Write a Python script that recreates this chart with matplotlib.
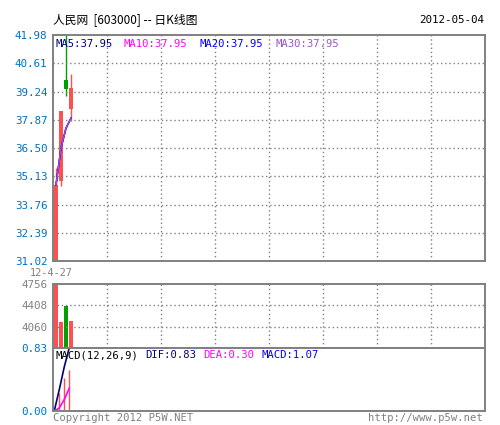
import numpy as np
import matplotlib
matplotlib.use("Agg")
import matplotlib.pyplot as plt

# daily candles 2012-04-27 .. 2012-05-04
opens = [31.02, 34.89, 39.78, 38.41]
highs = [35.52, 38.30, 41.98, 40.07]
lows = [31.02, 34.64, 39.04, 37.82]
closes = [34.70, 38.30, 39.38, 39.42]
volumes = [4756, 4128, 4390, 4160]
dif = [0.00, 0.28, 0.58, 0.834]
dea = [0.00, 0.04, 0.15, 0.30]

price_ticks = np.linspace(31.02, 41.98, 9)
vol_ticks = [4756, 4408, 4060]
vol_bottom = 3712
macd_ticks = [0.00, 0.83]
first_date = "12-4-27"
last_date = "2012-05-04"

RED = "#ff5050"
GREEN = "#00a000"
GRAY = "#808080"
BLUE = "#0070c0"
MONO = "DejaVu Sans Mono"
CJK = ["Noto Sans CJK SC", "DejaVu Sans"]

def ma(vals, n):
    out = []
    for i in range(len(vals)):
        s = vals[max(0, i - n + 1):i + 1]
        out.append(sum(s) / len(s))
    return np.array(out)

W, H = 500, 425
fig = plt.figure(figsize=(5, 4.25), dpi=100)

def box(x0, y0, x1, y1):
    return [x0 / W, 1 - y1 / H, (x1 - x0) / W, (y1 - y0) / H]

ax_k = fig.add_axes(box(53, 35, 485, 261))
ax_v = fig.add_axes(box(53, 284, 485, 348))
ax_m = fig.add_axes(box(53, 348, 485, 411))

n = len(closes)
x = np.arange(n)
xl, xr = -0.6, -0.6 + 432 / 5.0
vgrid = [xl + k * (xr - xl) / 8 for k in range(1, 8)]

for ax in (ax_k, ax_v, ax_m):
    ax.set_xlim(xl, xr)
    ax.set_xticks([])
    for sp in ax.spines.values():
        sp.set_color(GRAY)
        sp.set_linewidth(1.4)
    ax.tick_params(axis="y", length=0, pad=4)

# main candles
for i in range(n):
    col = RED if closes[i] >= opens[i] else GREEN
    ax_k.vlines(i, lows[i], highs[i], color=col, lw=1)
    lo = min(opens[i], closes[i])
    ax_k.bar(i, abs(closes[i] - opens[i]), bottom=lo, width=0.9, color=col)

ax_k.plot(x, ma(closes, 5), color="#000080", lw=1)
ax_k.plot(x, ma(closes, 10), color="#ff00ff", lw=1)
ax_k.plot(x, ma(closes, 20), color="#0000ff", lw=1)
ax_k.plot(x, ma(closes, 30), color="#9955cc", lw=1)

ax_k.set_ylim(price_ticks[0], price_ticks[-1])
ax_k.set_yticks(price_ticks)
ax_k.set_yticklabels(["%.2f" % t for t in price_ticks], color=BLUE,
                     family=MONO, fontsize=7.8)
for t in price_ticks[1:-1]:
    ax_k.axhline(t, color=GRAY, ls=(0, (1, 2)), lw=1)
for g in vgrid:
    ax_k.axvline(g, color=GRAY, ls=(0, (1, 2)), lw=1)

# volume
for i in range(n):
    col = RED if closes[i] >= opens[i] else GREEN
    ax_v.bar(i, volumes[i] - vol_bottom, bottom=vol_bottom, width=0.85, color=col)
ax_v.set_ylim(vol_bottom, vol_ticks[0])
ax_v.set_yticks(vol_ticks)
ax_v.set_yticklabels([str(t) for t in vol_ticks], color=GRAY,
                     family=MONO, fontsize=7.8)
for t in vol_ticks[1:]:
    ax_v.axhline(t, color=GRAY, ls=(0, (1, 2)), lw=1)
for g in vgrid:
    ax_v.axvline(g, color=GRAY, ls=(0, (1, 2)), lw=1)

# macd
hist = np.array(dif) - np.array(dea)
ax_m.vlines(x[1:] - 0.35, 0, hist[1:], color=RED, lw=1)
ax_m.plot(x - 0.35, dif, color="#000080", lw=1.2)
ax_m.plot(x - 0.35, dea, color="#ff00ff", lw=1.2)
ax_m.set_ylim(macd_ticks[0], macd_ticks[-1])
ax_m.set_yticks(macd_ticks)
ax_m.set_yticklabels(["%.2f" % t for t in macd_ticks], color=BLUE,
                     family=MONO, fontsize=7.8)

def ftext(px, py, s, **kw):
    fig.text(px / W, 1 - py / H, s, va="center", **kw)

ftext(53, 20, "人民网  [603000] -- 日K线图", family=CJK, fontsize=8.5, color="black")
ftext(484, 20, last_date, family=MONO, fontsize=7.8, color="black", ha="right")

ftext(55, 44, "MA5:%.2f" % ma(closes, 5)[-1], family=MONO, fontsize=7.6, color="#000080")
ftext(124, 44, "MA10:%.2f" % ma(closes, 10)[-1], family=MONO, fontsize=7.6, color="#ff00ff")
ftext(200, 44, "MA20:%.2f" % ma(closes, 20)[-1], family=MONO, fontsize=7.6, color="#0000ff")
ftext(275, 44, "MA30:%.2f" % ma(closes, 30)[-1], family=MONO, fontsize=7.6, color="#9955cc")

ftext(55, 355, "MACD(12,26,9)", family=MONO, fontsize=7.6, color="black")
ftext(145, 355, "DIF:%.2f" % dif[-1], family=MONO, fontsize=7.6, color="#000080")
ftext(203, 355, "DEA:%.2f" % dea[-1], family=MONO, fontsize=7.6, color="#ff00ff")
ftext(261, 355, "MACD:%.2f" % (2 * hist[-1]), family=MONO, fontsize=7.6, color="#0000ff")

ftext(51, 273, first_date, family=MONO, fontsize=7.4, color=GRAY, ha="center")
ftext(53, 418, "Copyright 2012 P5W.NET", family=MONO, fontsize=7.6, color=GRAY)
ftext(483, 418, "http://www.p5w.net", family=MONO, fontsize=7.6, color=GRAY, ha="right")

fig.savefig("out.png", dpi=100)
